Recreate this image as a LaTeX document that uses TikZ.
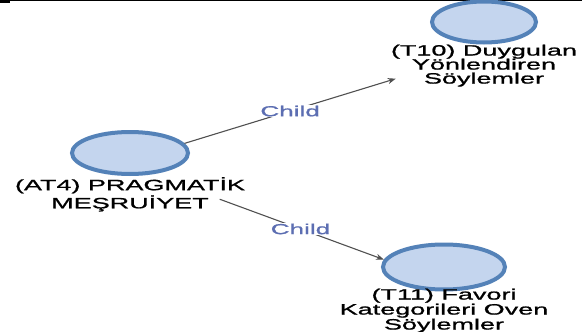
\documentclass[tikz,border=0pt]{standalone}
\usepackage{fontspec}
\newfontfamily\widesans[FakeStretch=1.8,FakeBold=1.2]{Liberation Sans}
\usetikzlibrary{arrows.meta,positioning,shapes.geometric}
\definecolor{ringblue}{RGB}{84,130,184}
\definecolor{nodefill}{RGB}{196,213,238}
\definecolor{childblue}{RGB}{92,110,178}
\definecolor{arrowgrey}{RGB}{80,80,80}
\begin{document}
\begin{tikzpicture}[x=1pt,y=-1pt,
    codenode/.style={ellipse,draw=ringblue,line width=4pt,fill=nodefill,
      inner sep=0pt,minimum width=116pt,minimum height=42pt},
    codelabel/.style={align=center,inner sep=1pt,
      font=\widesans\fontsize{15}{14}\selectfont},
    childarrow/.style={draw=arrowgrey,line width=1.1pt,
      -{Stealth[length=8pt,width=6pt]}},
    childlbl/.style={fill=white,inner sep=1pt,text=childblue,
      font=\widesans\fontsize{14.5}{14.5}\selectfont}]
  \useasboundingbox (0,0) rectangle (582,332);
  % frame line at the top
  \draw[line width=1.4pt] (0,0.7) -- (582,0.7);
  \fill (0,0) rectangle (10,2.6);
  % nodes
  \node[codenode] (at4) at (130,153) {};
  \node[codelabel,below=0pt of at4] (at4lbl) {(AT4) PRAGMATİK\\[1pt]MEŞRUİYET};
  \node[codenode,minimum width=104pt,minimum height=41pt] (t10) at (484,22) {};
  \node[codelabel,below=-1pt of t10] (t10lbl) {(T10) Duygulan\\Yönlendiren\\Söylemler};
  \node[codenode,minimum width=122pt,minimum height=45pt] (t11) at (444,267) {};
  \node[codelabel,below=-4pt of t11,font=\widesans\fontsize{15}{13.5}\selectfont] (t11lbl) {(T11) Favori\\Kategorileri Oven\\Söylemler};
  % connectors
  \draw[childarrow] (at4.10) -- node[childlbl] {Child} ([xshift=6pt,yshift=-13pt]t10lbl.west);
  \draw[childarrow,shorten <=72pt] (at4.-44) -- node[childlbl,pos=0.64] {Child} (t11.173);
\end{tikzpicture}
\end{document}
